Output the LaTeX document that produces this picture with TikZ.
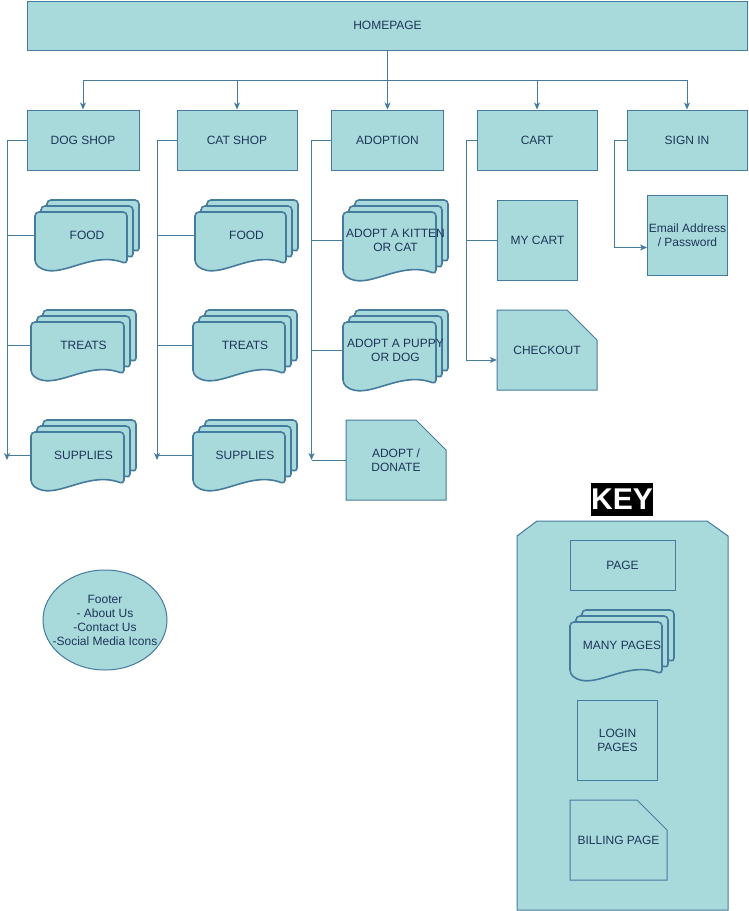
\documentclass[tikz,border=0pt]{standalone}
\usepackage{fontspec}
\setmainfont{Liberation Sans}
\usetikzlibrary{arrows.meta}
\definecolor{pagefill}{HTML}{A8DADC}
\definecolor{pageline}{HTML}{457B9D}
\definecolor{pagetext}{HTML}{1D3557}
\tikzset{
every node/.style={font=\fontsize{12}{14}\selectfont, text=pagetext, align=center, inner sep=0pt}, % text of every box
page/.style={draw=pageline, fill=pagefill, line width=1pt}, % a single page
sheet/.style={draw=pageline, fill=pagefill, line width=1.6pt, rounded corners=4pt}, % one sheet of a stack of pages
link/.style={draw=pageline, line width=1pt}, % plain connector
arrowlink/.style={link, -{Stealth[length=7pt, width=6pt, inset=2pt]}}, % connector with a head
}
% stack of pages: name, left, top, width, height, text
\newcommand{\stackpage}[6]{%
  \pgfmathsetmacro\sw{#4-12}
  \pgfmathsetmacro\sh{#5-12}
  \begin{scope}[shift={(#2,#3)}]
    \foreach \d in {12,6,0}
      \draw[sheet] (\d+\sw,\sh+6-\d) .. controls (\d+0.6*\sw,\sh-8-\d) and (\d+0.25*\sw,\sh+24-\d) .. (\d,\sh+6-\d) -- (\d,12-\d) -- (\d+\sw,12-\d) -- cycle;
  \end{scope}
  \node[minimum width=#4pt, minimum height=#5pt] (#1) at (#2+#4/2,#3+#5/2) {#6};
}
% page with a cut corner: name, left, top, width, height, text
\newcommand{\cardpage}[6]{%
  \draw[page] (#2,#3) -- (#2+#4-30,#3) -- (#2+#4,#3+30) -- (#2+#4,#3+#5) -- (#2,#3+#5) -- cycle;
  \node[minimum width=#4pt, minimum height=#5pt] (#1) at (#2+#4/2,#3+#5/2) {#6};
}
\begin{document}
\begin{tikzpicture}[x=1pt, y=-1pt]
\useasboundingbox (0,0) rectangle (748,911);

% top level
\node[page, minimum width=720pt, minimum height=49pt] (homepage) at (387.5,25.5) {HOMEPAGE};
\node[page, minimum width=112pt, minimum height=60pt] (dogshop) at (83,140) {DOG SHOP};
\node[page, minimum width=120pt, minimum height=60pt] (catshop) at (237,140) {CAT SHOP};
\node[page, minimum width=112pt, minimum height=60pt] (adoption) at (387.5,140) {ADOPTION};
\node[page, minimum width=120pt, minimum height=60pt] (cart) at (537,140) {CART};
\node[page, minimum width=120pt, minimum height=60pt] (signin) at (687,140) {SIGN IN};

\foreach \n in {dogshop, catshop, adoption, cart, signin}
  \draw[arrowlink] (homepage.south) -- ++(0,30) -| (\n.north);

% dog shop
\stackpage{dogfood}{35}{200}{104}{70}{FOOD}
\stackpage{dogtreats}{31}{310}{105}{70}{TREATS}
\stackpage{dogsupplies}{31}{420}{105}{70}{SUPPLIES}
\coordinate (dogend) at (7,460);
\draw[arrowlink] (dogshop.west) -| (dogend);
\foreach \n in {dogfood, dogtreats, dogsupplies}
  \draw[link] (\n.west) -- (\n.west -| dogend);

% cat shop
\stackpage{catfood}{195}{200}{103}{70}{FOOD}
\stackpage{cattreats}{193}{310}{104}{70}{TREATS}
\stackpage{catsupplies}{193}{420}{104}{70}{SUPPLIES}
\coordinate (catend) at (157,460);
\draw[arrowlink] (catshop.west) -| (catend);
\foreach \n in {catfood, cattreats, catsupplies}
  \draw[link] (\n.west) -- (\n.west -| catend);

% adoption
\stackpage{kitten}{343}{200}{105}{80}{ADOPT A KITTEN\\OR CAT}
\stackpage{puppy}{343}{310}{105}{80}{ADOPT A PUPPY\\OR DOG}
\cardpage{donate}{346}{420}{100}{80}{ADOPT /\\DONATE}
\coordinate (adoptend) at (311.5,460);
\draw[arrowlink] (adoption.west) -| (adoptend);
\foreach \n in {kitten, puppy, donate}
  \draw[link] (\n.west) -- (\n.west -| adoptend);

% cart
\node[page, minimum width=80pt, minimum height=80pt] (mycart) at (537.5,240) {MY CART};
\cardpage{checkout}{497}{310}{100}{80}{CHECKOUT}
\draw[arrowlink] (cart.west) -- ++(-10,0) coordinate (cartbus) |- ([yshift=-10pt]checkout.west);
\draw[link] (mycart.west) -- (mycart.west -| cartbus);

% sign in
\node[page, minimum width=80pt, minimum height=80pt] (email) at (687.5,235.5) {Email Address\\/ Password};
\draw[arrowlink] (signin.west) -- ++(-12,0) |- ([yshift=-12pt]email.west);

% footer
\draw[page] (105,620) ellipse [x radius=62, y radius=50];
\node (footer) at (105,620) {Footer\\- About Us\\-Contact Us\\-Social Media Icons};

% key
\draw[page] (517,536) -- (537,521) -- (707,521) -- (728,536) -- (728,910) -- (517,910) -- cycle;
\node[fill=black, text=white, font=\bfseries\fontsize{30}{30}\selectfont, minimum width=62pt, minimum height=33pt] (key) at (622,499.5) {KEY};
\node[page, line width=0.8pt, minimum width=105pt, minimum height=50pt] (keypage) at (622.5,565) {PAGE};
\stackpage{keymany}{570}{610}{104}{70}{MANY PAGES}
\node[page, line width=0.8pt, minimum width=80pt, minimum height=80pt] (keylogin) at (617.5,740) {LOGIN\\PAGES};
\cardpage{keybilling}{570}{800}{97}{80}{BILLING PAGE}
\end{tikzpicture}
\end{document}
